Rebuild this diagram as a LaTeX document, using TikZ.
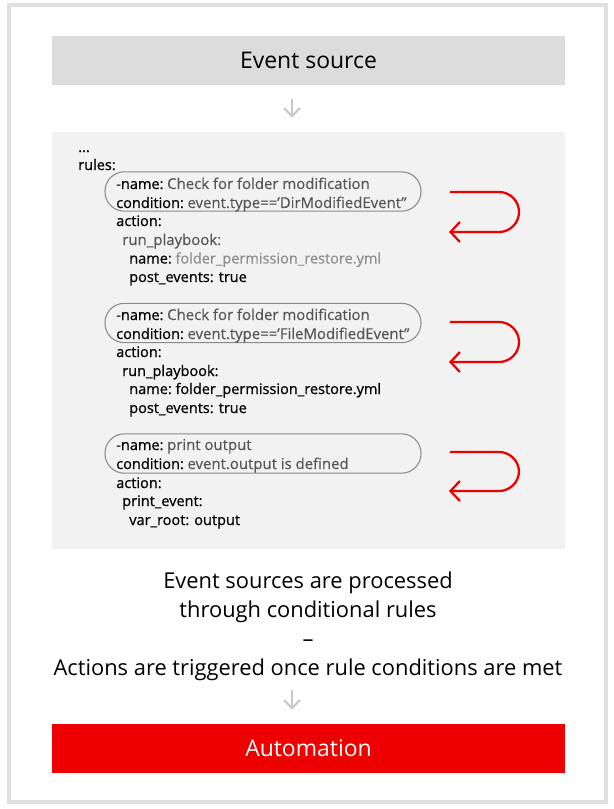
\documentclass[tikz,border=0pt]{standalone}
\usepackage{fontspec}
\setmainfont{Open Sans}
\newfontfamily\codefont[FakeBold=0.7]{Open Sans}
\newfontfamily\valuefont[FakeBold=0.25]{Open Sans}
\usetikzlibrary{arrows.meta}

\definecolor{framegray}{HTML}{E0E0E0}
\definecolor{sourcegray}{HTML}{DCDCDC}
\definecolor{panelgray}{HTML}{F2F2F2}
\definecolor{arrowgray}{HTML}{C8C8C8}
\definecolor{pillgray}{HTML}{8A8A8A}
\definecolor{valuegray}{HTML}{555555}
\definecolor{filegray}{HTML}{8C8C8C}
\definecolor{autored}{HTML}{EE0000}

\newcommand{\val}[1]{{\valuefont\fontsize{11.2}{12}\selectfont\textcolor{valuegray}{#1}}}
\newcommand{\fileval}[1]{{\valuefont\fontsize{10.9}{12}\selectfont\textcolor{filegray}{#1}}}

\tikzset{
  band/.style={minimum width=385pt,minimum height=36.75pt,inner sep=0pt,font=\fontsize{17.2}{20}\selectfont},
  codeline/.style={anchor=base west,inner sep=0pt,text=black,font=\codefont\fontsize{10.9}{12}\selectfont},
  pill/.style={draw=pillgray,line width=0.8pt,rounded corners=14.5pt,minimum width=237pt,minimum height=29.5pt,inner sep=0pt},
  flow/.style={draw=arrowgray,line width=1.6pt,-{Straight Barb[length=6pt,width=12pt]}},
  loopback/.style={draw=autored,line width=1.7pt,rounded corners=15pt,-{Straight Barb[length=7pt,width=15pt]}}
}

\begin{document}
\begin{tikzpicture}[x=0.75pt,y=-0.75pt]
  \useasboundingbox (0,0) rectangle (613,809);
  \draw[framegray,line width=2.4pt] (9,5) rectangle (606,802);

  \node[band,fill=sourcegray] (source) at (308.5,60.5) {Event source};
  \node[fill=panelgray,minimum width=385pt,minimum height=312.75pt,inner sep=0pt] (panel) at (308.5,340.5) {};
  \node[band,fill=autored,text=white] (automation) at (308.5,748.5) {Automation};

  \foreach \py/\pname in {191.5/pilla,323/pillb,453.5/pillc}
    \node[pill] (\pname) at (263,\py) {};

  \node[codeline] (dots) at (78,152) {...};
  \node[codeline] (rules) at (78,170) {rules:};

  % first rule
  \node[codeline] (namea) at (116,189) {-name:\kern-1pt{} \val{Check for folder modification}};
  \node[codeline] (conda) at (116,208) {condition:\kern-1pt{} \val{event.type==’DirModifiedEvent”}};
  \node[codeline] (actiona) at (116,226) {action:};
  \node[codeline] (runa) at (122,245) {\val{run\_playbook:}};
  \node[codeline] (filea) at (129,263.5) {name:\kern-1pt{} \fileval{folder\_permission\_restore.yml}};
  \node[codeline] (posta) at (129,282) {post\_events: true};

  % second rule
  \node[codeline] (nameb) at (116,320) {-name:\kern-1pt{} \val{Check for folder modification}};
  \node[codeline] (condb) at (116,339) {condition:\kern-1pt{} \val{event.type==’FileModifiedEvent”}};
  \node[codeline] (actionb) at (116,357) {action:};
  \node[codeline] (runb) at (122,376) {run\_playbook:};
  \node[codeline] (fileb) at (129,394) {name:\kern-1pt{} folder\_permission\_restore.yml};
  \node[codeline] (postb) at (129,413) {post\_events: true};

  % third rule
  \node[codeline] (namec) at (116,450) {-name:\kern-1pt{} \val{print output}};
  \node[codeline] (condc) at (116,469) {condition:\kern-1pt{} \val{event.output is defined}};
  \node[codeline] (actionc) at (116,488) {action:};
  \node[codeline] (runc) at (122,506) {print\_event:};
  \node[codeline] (rootc) at (129,525) {var\_root: output};

  \node[align=center,inner sep=0pt,font=\fontsize{16.4}{21.75}\selectfont] (summary) at (308,626)
    {Event sources are processed\\through conditional rules\\–\\Actions are triggered once rule conditions are met};

  \coordinate (flowx) at (292,0);
  \draw[flow,shorten <=10.5pt,shorten >=10.5pt] (source.south -| flowx) -- (panel.north -| flowx);
  \draw[flow,shorten <=7pt,shorten >=10.5pt] (summary.south -| flowx) -- (automation.north -| flowx);

  \foreach \ty/\by/\lname in {192/232/a,322/362/b,452/491/c} {
    \coordinate (loopin\lname) at (450,\ty);
    \coordinate (loopout\lname) at (449,\by);
    \draw[loopback] (loopin\lname) -- (519,\ty) -- (519,\by) -- (loopout\lname);
  }
\end{tikzpicture}
\end{document}
